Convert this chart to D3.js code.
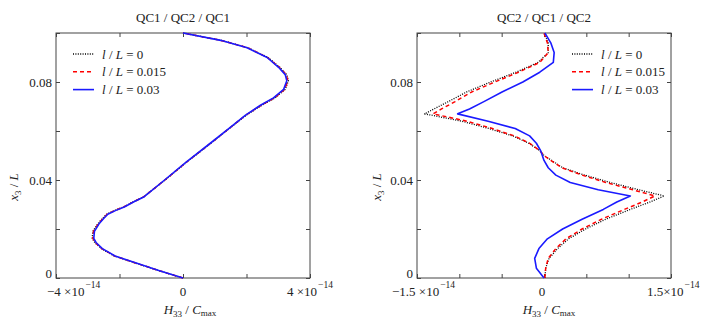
<!DOCTYPE html>
<html><head><meta charset="utf-8">
<script src="https://cdn.jsdelivr.net/npm/d3@7/dist/d3.min.js"></script>
<style>
html,body{margin:0;padding:0;background:#fff;}
text{font-family:"Liberation Serif","Times New Roman",serif;fill:#222;}
</style></head>
<body><svg id="chart" width="708" height="323"></svg>
<script>
// ---------- DATA ----------
const seriesLabels = ["0", "0.015", "0.03"];          // l / L values
const panelTitles = ["QC1 / QC2 / QC1", "QC2 / QC1 / QC2"];

// Left panel (QC1/QC2/QC1): x3/L grid and H33/Cmax (units of 1e-14)
const leftX3 = [0, 0.003, 0.006, 0.009, 0.012, 0.0145, 0.0162, 0.019, 0.022, 0.024, 0.026, 0.0275, 0.029, 0.031, 0.0332, 0.04, 0.047, 0.055, 0.061, 0.0665, 0.0705, 0.0735, 0.077, 0.0805, 0.083, 0.086, 0.09, 0.094, 0.097, 0.1];
const leftH_l0    = [0, -0.76, -1.47, -2.17, -2.57, -2.78, -2.86, -2.84, -2.69, -2.56, -2.41, -2.17, -1.88, -1.58, -1.24, -0.56, 0.09, 0.88, 1.46, 2.0, 2.48, 2.9, 3.22, 3.32, 3.27, 3.05, 2.68, 2.04, 1.2, 0];
const leftH_l015  = [0, -0.75, -1.46, -2.16, -2.56, -2.76, -2.84, -2.82, -2.67, -2.54, -2.39, -2.15, -1.87, -1.57, -1.23, -0.57, 0.08, 0.87, 1.45, 1.98, 2.46, 2.88, 3.2, 3.3, 3.25, 3.03, 2.66, 2.03, 1.19, 0];
const leftH_l03   = [0, -0.74, -1.45, -2.14, -2.54, -2.74, -2.81, -2.79, -2.65, -2.52, -2.37, -2.13, -1.85, -1.56, -1.22, -0.58, 0.07, 0.86, 1.44, 1.97, 2.44, 2.85, 3.17, 3.27, 3.22, 3.01, 2.65, 2.02, 1.19, 0];

// Right panel (QC2/QC1/QC2)
const rightX3 = [0, 0.004, 0.008, 0.012, 0.016, 0.02, 0.024, 0.028, 0.031, 0.0335, 0.036, 0.039, 0.042, 0.045, 0.048, 0.05, 0.052, 0.055, 0.058, 0.061, 0.064, 0.067, 0.069, 0.072, 0.076, 0.08, 0.084, 0.088, 0.092, 0.096, 0.1];
const rightH_l0   = [0.01, 0.02, 0.06, 0.16, 0.29, 0.49, 0.73, 1.02, 1.25, 1.42, 1.12, 0.78, 0.48, 0.22, 0.09, 0.0, -0.05, -0.18, -0.37, -0.65, -0.97, -1.41, -1.3, -1.13, -0.91, -0.63, -0.33, -0.07, 0.05, 0.05, 0.0];
const rightH_l015 = [0.01, 0.02, 0.05, 0.14, 0.26, 0.45, 0.68, 0.95, 1.16, 1.31, 1.05, 0.73, 0.45, 0.21, 0.08, 0.0, -0.05, -0.17, -0.35, -0.61, -0.91, -1.31, -1.21, -1.05, -0.85, -0.58, -0.3, -0.05, 0.05, 0.04, 0.0];
const rightH_l03  = [0.0, -0.09, -0.11, -0.06, 0.04, 0.22, 0.45, 0.7, 0.86, 1.02, 0.64, 0.31, 0.14, 0.05, 0.0, -0.02, -0.04, -0.09, -0.17, -0.34, -0.66, -1.02, -0.88, -0.71, -0.49, -0.25, -0.05, 0.11, 0.12, 0.08, 0.01];

const leftXTicks = [-4, -2, 0, 2, 4];
const rightXTicks = [-1.5, -1, -0.5, 0, 0.5, 1, 1.5];
const yTicks = [0, 0.02, 0.04, 0.06, 0.08, 0.1];
const yTickLabels = {0: "0", 0.04: "0.04", 0.08: "0.08"};

// ---------- STYLES ----------
const styles = [
  {color: "#000", width: 1.3, dash: "1,1.4"},
  {color: "#ff0000", width: 1.5, dash: "4,3"},
  {color: "#1a1aff", width: 1.6, dash: null}
];

const svg = d3.select("#chart");
const plotTop = 33, plotBottom = 278;

function drawPanel(cfg) {
  const x = d3.scaleLinear().domain(cfg.xDomain).range([cfg.left, cfg.right]);
  const y = d3.scaleLinear().domain([0, 0.1]).range([plotBottom, plotTop]);
  const g = svg.append("g");

  g.append("rect").attr("x", cfg.left).attr("y", plotTop)
    .attr("width", cfg.right - cfg.left).attr("height", plotBottom - plotTop)
    .attr("fill", "none").attr("stroke", "#444").attr("stroke-width", 1);

  const axB = d3.axisBottom(x).tickValues(cfg.xTicks).tickSizeInner(-4).tickSizeOuter(0).tickFormat("");
  const axT = d3.axisTop(x).tickValues(cfg.xTicks).tickSizeInner(-4).tickSizeOuter(0).tickFormat("");
  const axL = d3.axisLeft(y).tickValues(yTicks).tickSizeInner(-4).tickSizeOuter(0).tickFormat("");
  const axR = d3.axisRight(y).tickValues(yTicks).tickSizeInner(-4).tickSizeOuter(0).tickFormat("");
  [[axB, `translate(0,${plotBottom})`], [axT, `translate(0,${plotTop})`], [axL, `translate(${cfg.left},0)`], [axR, `translate(${cfg.right},0)`]]
    .forEach(([ax, tr]) => {
      const a = g.append("g").attr("transform", tr).call(ax);
      a.select(".domain").remove();
      a.selectAll("line").attr("stroke", "#444");
    });

  yTicks.filter(v => yTickLabels[v] !== undefined).forEach(v => {
    g.append("text").attr("x", cfg.left - 4).attr("y", Math.min(y(v) + 4.5, plotBottom))
      .attr("text-anchor", "end").attr("font-size", 13).text(yTickLabels[v]);
  });

  cfg.xLabels.forEach(l => {
    const t = g.append("text").attr("x", x(l.v) + l.dx).attr("y", 296)
      .attr("text-anchor", l.anchor).attr("font-size", 13);
    if (l.exp) {
      t.append("tspan").text(l.base);
      t.append("tspan").attr("dy", -8).attr("dx", 1).attr("font-size", 9.5).text("\u221214");
    } else {
      t.text(l.base);
    }
  });

  g.append("text").attr("x", (cfg.left + cfg.right) / 2).attr("y", 22)
    .attr("text-anchor", "middle").attr("font-size", 13).text(cfg.title);

  const xt = g.append("text").attr("x", cfg.xTitleX).attr("y", 314)
    .attr("text-anchor", "middle").attr("font-size", 13);
  xt.append("tspan").attr("font-style", "italic").text("H");
  xt.append("tspan").attr("font-size", 9).attr("dy", 3).text("33");
  xt.append("tspan").attr("dy", -3).text(" / ");
  xt.append("tspan").attr("font-style", "italic").text("C");
  xt.append("tspan").attr("font-size", 9).attr("dy", 2).text("max");

  const yt = g.append("text").attr("transform", `translate(${cfg.yTitleX},187) rotate(-90)`)
    .attr("text-anchor", "middle").attr("font-size", 13);
  yt.append("tspan").attr("font-style", "italic").text("x");
  yt.append("tspan").attr("font-size", 9).attr("dy", 3).text("3");
  yt.append("tspan").attr("dy", -3).text(" / ");
  yt.append("tspan").attr("font-style", "italic").text("L");

  const line = d3.line().x(d => x(d[0] * 1e-14)).y(d => y(d[1]));
  cfg.series.forEach((vals, i) => {
    const pts = vals.map((v, k) => [v, cfg.x3[k]]);
    const p = g.append("path").datum(pts).attr("d", line)
      .attr("fill", "none").attr("stroke", styles[i].color)
      .attr("stroke-width", styles[i].width).attr("stroke-linejoin", "round");
    if (styles[i].dash) p.attr("stroke-dasharray", styles[i].dash);
  });

  const lg = g.append("g");
  seriesLabels.forEach((lab, i) => {
    const yy = cfg.legY + i * 17.8;
    const ln = lg.append("line").attr("x1", cfg.legX).attr("x2", cfg.legX + 21)
      .attr("y1", yy).attr("y2", yy).attr("stroke", styles[i].color)
      .attr("stroke-width", styles[i].width);
    if (styles[i].dash) ln.attr("stroke-dasharray", styles[i].dash);
    const t = lg.append("text").attr("x", cfg.legX + 29).attr("y", yy + 4.5).attr("font-size", 13);
    t.append("tspan").attr("font-style", "italic").text("l");
    t.append("tspan").text(" / ");
    t.append("tspan").attr("font-style", "italic").text("L");
    t.append("tspan").text(" = " + lab);
  });
}

drawPanel({
  left: 56, right: 310, xDomain: [-4e-14, 4e-14],
  xTicks: leftXTicks.map(v => v * 1e-14),
  xLabels: [
    {v: -4e-14, base: "\u22124 \u00d710", exp: true, anchor: "start", dx: -9},
    {v: 0, base: "0", exp: false, anchor: "middle", dx: 0},
    {v: 4e-14, base: "4 \u00d710", exp: true, anchor: "start", dx: -23}
  ],
  title: panelTitles[0], xTitleX: 190, yTitleX: 18,
  x3: leftX3, series: [leftH_l0, leftH_l015, leftH_l03],
  legX: 73, legY: 54
});

drawPanel({
  left: 417, right: 671, xDomain: [-1.5e-14, 1.5e-14],
  xTicks: rightXTicks.map(v => v * 1e-14),
  xLabels: [
    {v: -1.5e-14, base: "\u22121.5 \u00d710", exp: true, anchor: "start", dx: -25},
    {v: 0, base: "0", exp: false, anchor: "middle", dx: -2},
    {v: 1.5e-14, base: "1.5\u00d710", exp: true, anchor: "start", dx: -24}
  ],
  title: panelTitles[1], xTitleX: 549, yTitleX: 381,
  x3: rightX3, series: [rightH_l0, rightH_l015, rightH_l03],
  legX: 572, legY: 54
});
</script></body></html>
